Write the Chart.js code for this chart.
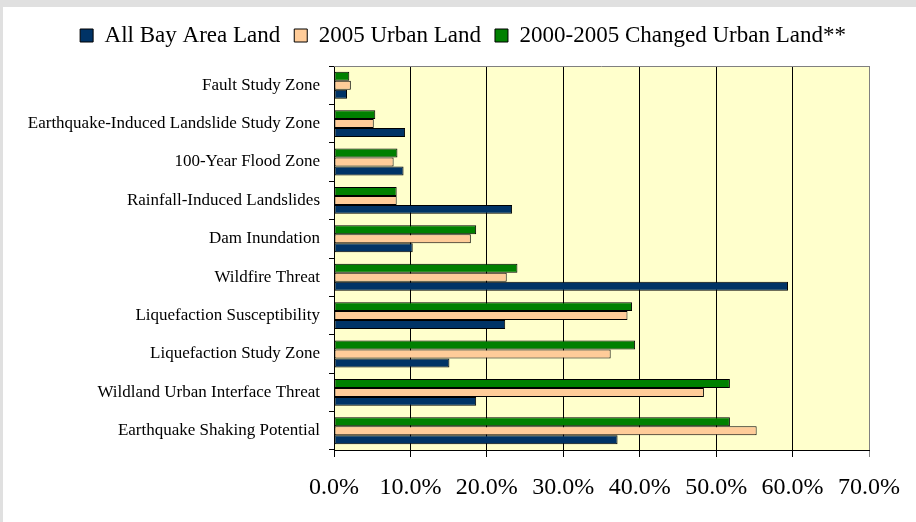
<!DOCTYPE html>
<html>
<head>
<meta charset="utf-8">
<script src="https://cdn.jsdelivr.net/npm/chart.js@4"></script>
<style>
    html, body { margin: 0; padding: 0; background: #e0e0e0; }
    #wrap { position: absolute; left: 3px; top: 7px; width: 913px; height: 515px; background: #fff; }
</style>
</head>
<body>
<div id="wrap"><canvas id="hazardChart" width="913" height="515"></canvas></div>
<script>
// Categories, top to bottom
const categories = [
    'Fault Study Zone',
    'Earthquake-Induced Landslide Study Zone',
    '100-Year Flood Zone',
    'Rainfall-Induced Landslides',
    'Dam Inundation',
    'Wildfire Threat',
    'Liquefaction Susceptibility',
    'Liquefaction Study Zone',
    'Wildland Urban Interface Threat',
    'Earthquake Shaking Potential'
];

// Percent of land in each zone
const allBayAreaLand = [1.7, 9.3, 9.1, 23.3, 10.3, 59.4, 22.4, 15.1, 18.6, 37.1];
const urbanLand2005 = [2.2, 5.2, 7.8, 8.2, 17.9, 22.6, 38.4, 36.2, 48.4, 55.3];
const changedUrbanLand = [2.0, 5.4, 8.3, 8.2, 18.6, 24.0, 39.0, 39.4, 51.8, 51.8];

// Axis ticks
const xTicks = [0, 10, 20, 30, 40, 50, 60, 70];

const FONT = "'Liberation Serif', 'Times New Roman', serif";

// Light yellow plot area with gray top frame; legend nudged right and given a gap below
const plotFrame = {
    id: 'plotFrame',
    beforeInit(chart) {
        const legend = chart.legend;
        if (!legend) return;
        const fit = legend.fit;
        legend.fit = function () {
            fit.call(this);
            this.height += 9;
        };
    },
    afterLayout(chart) {
        if (chart.legend) chart.legend.left += 49;
    },
    beforeDraw(chart) {
        const { ctx, chartArea: a } = chart;
        ctx.save();
        ctx.fillStyle = '#ffffcc';
        ctx.fillRect(a.left, a.top, a.right - a.left, a.bottom - a.top);
        ctx.restore();
    },
    beforeDatasetsDraw(chart) {
        const { ctx, chartArea: a } = chart;
        ctx.save();
        ctx.strokeStyle = '#808080';
        ctx.lineWidth = 1;
        ctx.beginPath();
        ctx.moveTo(a.left, Math.round(a.top) + 0.5);
        ctx.lineTo(a.right, Math.round(a.top) + 0.5);
        ctx.stroke();
        ctx.restore();
    }
};

new Chart(document.getElementById('hazardChart'), {
    type: 'bar',
    data: {
        labels: categories,
        datasets: [
            {
                label: '2000-2005 Changed Urban Land**',
                data: changedUrbanLand,
                backgroundColor: '#008000',
                borderColor: '#000',
                borderWidth: 1,
                borderSkipped: false
            },
            {
                label: '2005 Urban Land',
                data: urbanLand2005,
                backgroundColor: '#ffcc99',
                borderColor: '#000',
                borderWidth: 1,
                borderSkipped: false
            },
            {
                label: 'All Bay Area Land',
                data: allBayAreaLand,
                backgroundColor: '#003366',
                borderColor: '#000',
                borderWidth: 1,
                borderSkipped: false
            }
        ]
    },
    options: {
        indexAxis: 'y',
        responsive: false,
        animation: false,
        categoryPercentage: 0.7,
        barPercentage: 1,
        layout: { padding: { top: 3, left: 0, right: 42, bottom: 0 } },
        plugins: {
            tooltip: { enabled: false },
            legend: {
                position: 'top',
                reverse: true,
                labels: {
                    color: '#000',
                    font: { family: FONT, size: 23 },
                    boxWidth: 13,
                    boxHeight: 13,
                    padding: 14
                }
            }
        },
        scales: {
            x: {
                min: 0,
                max: 70,
                afterBuildTicks(scale) {
                    scale.ticks = xTicks.map(v => ({ value: v }));
                },
                afterFit(scale) { scale.height = 72; },
                border: { display: true, color: '#000', width: 1 },
                grid: {
                    color: c => (c.tick && c.tick.value === 70 ? '#808080' : '#000'),
                    lineWidth: 1,
                    drawTicks: true,
                    tickLength: 7
                },
                ticks: {
                    color: '#000',
                    padding: 16,
                    maxRotation: 0,
                    font: { family: FONT, size: 24 },
                    callback: v => v.toFixed(1) + '%'
                }
            },
            y: {
                afterFit(scale) { scale.width = 331; },
                border: { display: true, color: '#000', width: 1 },
                grid: {
                    drawOnChartArea: false,
                    drawTicks: true,
                    tickLength: 5,
                    color: '#000'
                },
                ticks: {
                    color: '#000',
                    padding: 9,
                    autoSkip: false,
                    font: { family: FONT, size: 17 }
                }
            }
        }
    },
    plugins: [plotFrame]
});
</script>
</body>
</html>
